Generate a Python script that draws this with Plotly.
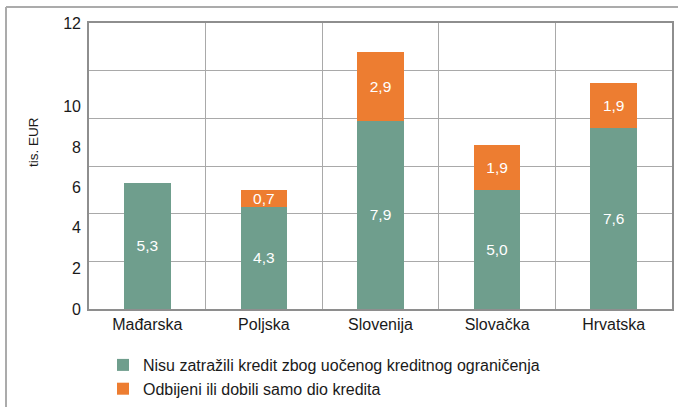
import plotly.graph_objects as go

categories = ["Mađarska", "Poljska", "Slovenija", "Slovačka", "Hrvatska"]
not_applied = [5.3, 4.3, 7.9, 5.0, 7.6]
rejected = [None, 0.7, 2.9, 1.9, 1.9]
series_names = ["Nisu zatražili kredit zbog uočenog kreditnog ograničenja",
                "Odbijeni ili dobili samo dio kredita"]
y_tick_labels = ["0", "2", "4", "6", "8", "10", "12"]
y_title = "tis. EUR"

def fmt(v):
    return None if v is None else f"{v:.1f}".replace(".", ",")

FONT = "Liberation Sans, Arial, sans-serif"
GREEN = "#6f9e8d"
ORANGE = "#ed7d31"
FS = 16

fig = go.Figure()
fig.add_trace(go.Bar(
    x=categories, y=not_applied, name=series_names[0],
    marker=dict(color=GREEN, line=dict(width=0)),
    text=[fmt(v) for v in not_applied], textposition="inside",
    insidetextanchor="middle", textangle=0,
    textfont=dict(color="white", size=15.5, family=FONT),
    width=0.4,
))
fig.add_trace(go.Bar(
    x=categories, y=rejected, name=series_names[1],
    marker=dict(color=ORANGE, line=dict(width=0)),
    text=[fmt(v) for v in rejected], textposition="inside",
    insidetextanchor="middle", textangle=0,
    textfont=dict(color="white", size=15.5, family=FONT),
    width=0.4,
))
# invisible helper so the label axis is rendered
fig.add_trace(go.Scatter(
    x=[categories[0]], y=[0], yaxis="y2", mode="markers",
    marker=dict(opacity=0), showlegend=False, hoverinfo="skip",
))

# label positions as rendered in the reference (labels drift from gridlines)
label_pos = [0, 1.72, 3.42, 5.12, 6.8, 8.5, 12]

L, R, T, B = 89, 6, 23, 98
W, H = 678, 407
pw, ph = W - L - R, H - T - B

def px(x):
    return (x - L) / pw

def py(y):
    return (H - B - y) / ph

fig.update_layout(
    width=W, height=H,
    margin=dict(l=L, r=R, t=T, b=B, autoexpand=False),
    paper_bgcolor="white", plot_bgcolor="white",
    barmode="stack",
    uniformtext=dict(minsize=15.5, mode="show"),
    font=dict(family=FONT, size=FS, color="#1a1a1a"),
    showlegend=True,
    legend=dict(
        orientation="v", traceorder="normal",
        x=px(103), xanchor="left", y=py(348), yanchor="top",
        font=dict(size=FS, family=FONT, color="#1a1a1a"),
        itemclick=False, tracegroupgap=0,
        bgcolor="rgba(0,0,0,0)",
    ),
    xaxis=dict(
        type="category", tickson="boundaries", automargin=False,
        showgrid=True, gridcolor="#a9a9a9", gridwidth=1,
        showline=True, linecolor="#8e8e8e", linewidth=2, mirror=True,
        ticks="", tickfont=dict(size=FS, family=FONT, color="#1a1a1a"),
        range=[-0.5, 4.5],
    ),
    yaxis=dict(
        range=[0, 12], dtick=2, tick0=0, automargin=False,
        showgrid=True, gridcolor="#a9a9a9", gridwidth=1,
        showline=True, linecolor="#8e8e8e", linewidth=2, mirror=True,
        showticklabels=False, ticks="", zeroline=False,
    ),
    yaxis2=dict(
        overlaying="y", side="left", range=[0, 12], automargin=False,
        tickmode="array", tickvals=label_pos, ticktext=y_tick_labels,
        showgrid=False, showline=False, zeroline=False, ticks="",
        tickfont=dict(size=FS, family=FONT, color="#1a1a1a"),
        ticklabelstandoff=7,
    ),
    annotations=[dict(
        text=y_title, textangle=-90, xref="paper", yref="paper",
        x=px(33), y=py(142), xanchor="center", yanchor="middle",
        showarrow=False, font=dict(size=13.5, family=FONT, color="#1a1a1a"),
    )],
    shapes=[
        dict(type="line", xref="paper", yref="paper",
             x0=px(6), x1=px(6), y0=py(7), y1=py(H + 5),
             line=dict(color="#ababab", width=2)),
        dict(type="line", xref="paper", yref="paper",
             x0=px(6), x1=px(W + 5), y0=py(7), y1=py(7),
             line=dict(color="#ababab", width=2)),
    ],
)

fig.write_html("out.html",
               config={"displayModeBar": False},
               post_script="document.body.style.margin='0';document.body.style.overflow='hidden';")
